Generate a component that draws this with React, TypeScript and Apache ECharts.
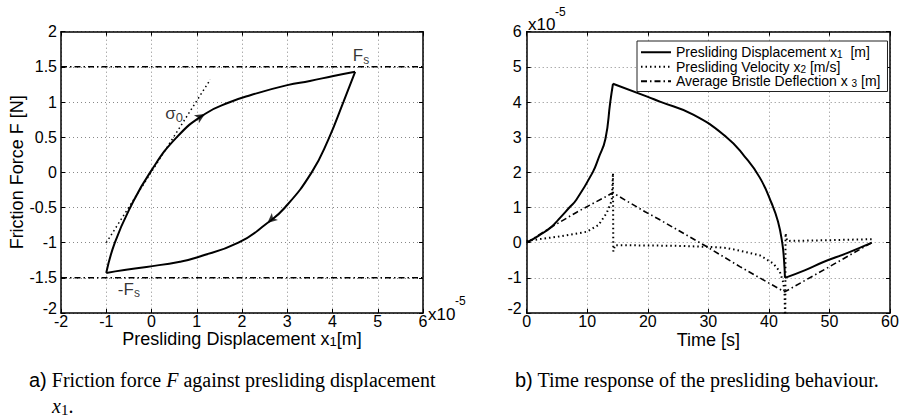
import { useEffect, useRef } from "react";
import * as echarts from "echarts";

// ---------- Left chart: friction force vs presliding displacement (x1 in 1e-5 m) ----------
const loopUpX = [-1, -0.81, -0.47, -0.03, 0.56, 1.18, 1.74, 2.2, 3.0, 3.5, 4.02, 4.5];
const loopUpY = [-1.43, -1.0, -0.5, 0, 0.5, 0.83, 1.0, 1.1, 1.24, 1.3, 1.37, 1.43];
const loopDownX = [4.5, 4.24, 3.91, 3.54, 2.95, 2.56, 1.92, 1.0, 0.63, -0.11, -0.6, -1];
const loopDownY = [1.43, 1.0, 0.47, 0, -0.5, -0.72, -1.0, -1.21, -1.27, -1.345, -1.39, -1.43];
const tangentX = [-1, 1.3];
const tangentY = [-1, 1.32];
const staticFriction = 1.5;
const arrowUp = [1.18, 0.83];
const arrowDown = [2.56, -0.72];
const leftXRange = [-2, 6, 1];
const leftYRange = [-2, 2, 0.5];

// ---------- Right chart: time response (values in 1e-5) ----------
const timeX1 = [0, 2.0, 4.1, 5.2, 7.05, 8.2, 10.9, 11.85, 13.0, 13.8, 14.25, 19.8, 22.0, 27.5, 33.0, 36.0, 38.5, 40.5, 41.5, 42.2, 42.5, 42.65, 46.0, 49.0, 53.0, 57.0];
const valX1 = [0, 0.2, 0.45, 0.65, 1.0, 1.22, 2.0, 2.4, 2.95, 4.0, 4.52, 4.16, 4.01, 3.64, 3.0, 2.45, 1.85, 1.1, 0.6, 0.0, -0.5, -1.0, -0.78, -0.55, -0.29, 0.0];
const x1Corners = [10, 21];
const timeX2 = [0, 5.5, 9.9, 11.85, 13.2, 14.05, 14.25, 14.3, 14.6, 20, 25, 30.2, 33, 35.5, 38.5, 40.7, 41.8, 42.4, 42.6, 42.7, 42.75, 43.0, 50, 57];
const valX2 = [0.05, 0.18, 0.31, 0.5, 0.84, 1.2, 1.98, -0.25, -0.07, -0.08, -0.09, -0.12, -0.15, -0.24, -0.36, -0.59, -0.82, -1.15, -1.5, -2.5, 0.27, 0.05, 0.07, 0.1];
const timeX3 = [0, 3.85, 8.2, 11.0, 13.2, 14.2, 19.55, 22.0, 29.7, 35.2, 39.6, 42.6, 49.0, 53.4, 57.0];
const valX3 = [0, 0.42, 0.86, 1.12, 1.32, 1.42, 0.88, 0.65, -0.11, -0.68, -1.11, -1.4, -0.78, -0.35, 0.0];
const rightXRange = [0, 60, 10];
const rightYRange = [-2, 6, 1];

const seriesNames = [
  "Presliding Displacement x1 [m]",
  "Presliding Velocity x2 [m/s]",
  "Average Bristle Deflection x3 [m]",
];
const legendRich: Record<string, string> = {
  [seriesNames[0]]: "{t|Presliding Displacement x}{s|1}{t|  [m]}",
  [seriesNames[1]]: "{t|Presliding Velocity x}{s|2}{t| [m/s]}",
  [seriesNames[2]]: "{t|Average Bristle Deflection x }{s|3}{t| [m]}",
};

const SANS = "'Liberation Sans', Arial, Helvetica, sans-serif";
const SERIF = "'Liberation Serif', 'Times New Roman', serif";

function pairs(xs: number[], ys: number[]) {
  return xs.map((x, i) => [x, ys[i]]);
}

const black = "#000";
const DASHDOT = [6, 3, 1.5, 3];
const DOTTED = [1.5, 3];

function frameAxis(gridIndex: number, range: number[], position: string, extra: any = {}) {
  return {
    gridIndex,
    type: "value",
    min: range[0],
    max: range[1],
    interval: range[2],
    position,
    axisLine: { show: true, onZero: false, lineStyle: { color: black, width: 1.5 } },
    axisTick: { show: true, inside: true, length: 4, lineStyle: { color: black, width: 1 } },
    axisLabel: { show: false },
    splitLine: { show: false },
    ...extra,
  };
}

export default function App() {
  const ref = useRef<HTMLDivElement>(null);
  useEffect(() => {
    if (!ref.current) return;
    const chart = echarts.init(ref.current, undefined, { renderer: "svg" });

    const tickLabel = { show: true, color: black, fontSize: 16, fontFamily: SANS };
    // y-axis labels: the lowest one sits slightly above its tick, as in the reference
    const yTickLabel = (min: number, margin: number) => ({
      ...tickLabel,
      margin,
      formatter: (v: number) => (v === min ? `{lo|${v}}` : `${v}`),
      rich: { lo: { fontSize: 16, fontFamily: SANS, color: black, padding: [0, 0, 9, 0] } },
    });
    const gridLine = { show: true, lineStyle: { type: [1, 3], color: "#888", width: 1 } };
    const richTitle = {
      t: { fontSize: 18, fontFamily: SANS, color: black },
      s: { fontSize: 13, fontFamily: SANS, color: black, padding: [6, 0, 0, 0] },
    };

    const x1Pairs = pairs(timeX1, valX1);
    const x1Pieces = [
      x1Pairs.slice(0, x1Corners[0] + 1),
      x1Pairs.slice(x1Corners[0], x1Corners[1] + 1),
      x1Pairs.slice(x1Corners[1]),
    ];

    const annot = (pos: number[], text: string, rich: any) => ({
      type: "scatter",
      xAxisIndex: 0,
      yAxisIndex: 0,
      symbolSize: 0,
      silent: true,
      data: [pos],
      label: { show: true, position: "inside", formatter: text, rich, color: black },
    });
    const annotRich = (subSize: number) => ({
      b: { fontSize: 17, fontFamily: SANS, color: black },
      s: { fontSize: subSize, fontFamily: SANS, color: black, padding: [8, 0, 0, 0] },
    });

    const option: any = {
      animation: false,
      backgroundColor: "#fff",
      grid: [
        { left: 61, top: 31.7, width: 362, height: 281.3 },
        { left: 526.7, top: 31.7, width: 363.3, height: 281.3 },
      ],
      xAxis: [
        frameAxis(0, leftXRange, "bottom", {
          axisLabel: { ...tickLabel, margin: 0 },
          splitLine: gridLine,
          name: "{t|Presliding Displacement x}{s|1}{t|[m]}",
          nameLocation: "middle",
          nameGap: 16,
          nameMoveOverlap: false,
          nameTextStyle: { rich: richTitle, verticalAlign: "top" },
        }),
        frameAxis(1, rightXRange, "bottom", {
          axisLabel: { ...tickLabel, margin: 0 },
          splitLine: gridLine,
          name: "{t|Time [s]}",
          nameLocation: "middle",
          nameGap: 18,
          nameMoveOverlap: false,
          nameTextStyle: { rich: richTitle, verticalAlign: "top" },
        }),
        frameAxis(0, leftXRange, "top"),
        frameAxis(1, rightXRange, "top"),
      ],
      yAxis: [
        frameAxis(0, leftYRange, "left", {
          axisLabel: yTickLabel(leftYRange[0], 4),
          splitLine: gridLine,
          name: "Friction Force F [N]",
          nameLocation: "middle",
          nameGap: 35,
          nameMoveOverlap: false,
          nameTextStyle: { fontSize: 18, fontFamily: SANS, color: black },
        }),
        frameAxis(1, rightYRange, "left", {
          axisLabel: yTickLabel(rightYRange[0], 5),
          splitLine: gridLine,
        }),
        frameAxis(0, leftYRange, "right"),
        frameAxis(1, rightYRange, "right"),
      ],
      legend: {
        data: seriesNames,
        orient: "vertical",
        left: 637,
        top: 41,
        itemGap: 0,
        itemWidth: 30,
        itemHeight: 12,
        itemTextGap: 5,
        padding: [4, 7, 3, 3],
        borderColor: "#222",
        borderWidth: 1,
        borderRadius: 0,
        backgroundColor: "#fff",
        selectedMode: false,
        itemStyle: { color: "rgba(0,0,0,0)", borderColor: "rgba(0,0,0,0)", borderWidth: 0, opacity: 0 },
        formatter: (n: string) => legendRich[n],
        textStyle: {
          fontFamily: SANS,
          fontSize: 14,
          color: black,
          lineHeight: 12.5,
          rich: {
            t: { fontSize: 14, lineHeight: 12.5, fontFamily: SANS, color: black },
            s: { fontSize: 10, lineHeight: 8, padding: [4.5, 0, 0, 0], fontFamily: SANS, color: black },
          },
        },
      },
      series: [
        // ---- left chart ----
        {
          type: "line", xAxisIndex: 0, yAxisIndex: 0, data: pairs(loopUpX, loopUpY),
          smooth: 0.5, symbol: "none", lineStyle: { color: black, width: 2 },
        },
        {
          type: "line", xAxisIndex: 0, yAxisIndex: 0, data: pairs(loopDownX, loopDownY),
          smooth: 0.5, symbol: "none", lineStyle: { color: black, width: 2 },
        },
        {
          type: "line", xAxisIndex: 0, yAxisIndex: 0, data: pairs(tangentX, tangentY),
          symbol: "none", lineStyle: { color: black, width: 1.5, type: DOTTED },
        },
        {
          type: "line", xAxisIndex: 0, yAxisIndex: 0,
          data: [[leftXRange[0], staticFriction], [leftXRange[1], staticFriction]],
          symbol: "none", lineStyle: { color: black, width: 1.5, type: DASHDOT },
        },
        {
          type: "line", xAxisIndex: 0, yAxisIndex: 0,
          data: [[leftXRange[0], -staticFriction], [leftXRange[1], -staticFriction]],
          symbol: "none", lineStyle: { color: black, width: 1.5, type: DASHDOT },
        },
        {
          type: "scatter", xAxisIndex: 0, yAxisIndex: 0, data: [arrowUp],
          symbol: "arrow", symbolSize: [7, 10], symbolRotate: -58, itemStyle: { color: black },
        },
        {
          type: "scatter", xAxisIndex: 0, yAxisIndex: 0, data: [arrowDown],
          symbol: "arrow", symbolSize: [7, 10], symbolRotate: 131, itemStyle: { color: black },
        },
        annot([4.63, 1.66], "{b|F}{s|s}", annotRich(12)),
        annot([-0.5, -1.66], "{b|-F}{s|s}", annotRich(12)),
        annot([0.5, 0.83], "{b|σ}{s|0}", annotRich(13)),
        // ---- right chart ----
        ...x1Pieces.map((d) => ({
          name: seriesNames[0], type: "line", xAxisIndex: 1, yAxisIndex: 1, data: d,
          smooth: 0.5, symbol: "none", lineStyle: { color: black, width: 2 }, itemStyle: { color: black },
        })),
        {
          name: seriesNames[1], type: "line", xAxisIndex: 1, yAxisIndex: 1, data: pairs(timeX2, valX2),
          symbol: "none", lineStyle: { color: black, width: 2, type: DOTTED }, itemStyle: { color: black },
        },
        {
          name: seriesNames[2], type: "line", xAxisIndex: 1, yAxisIndex: 1, data: pairs(timeX3, valX3),
          symbol: "none", lineStyle: { color: black, width: 1.6, type: DASHDOT }, itemStyle: { color: black },
        },
      ],
      graphic: [
        { type: "text", x: 428, y: 314, style: { text: "x10", fontSize: 17, fontFamily: SANS, fill: black, verticalAlign: "middle" } },
        { type: "text", x: 455, y: 301, style: { text: "-5", fontSize: 12, fontFamily: SANS, fill: black, verticalAlign: "middle" } },
        { type: "text", x: 528, y: 24, style: { text: "x10", fontSize: 17, fontFamily: SANS, fill: black, verticalAlign: "middle" } },
        { type: "text", x: 555, y: 12, style: { text: "-5", fontSize: 12, fontFamily: SANS, fill: black, verticalAlign: "middle" } },
        {
          type: "text", x: 29, y: 380,
          style: {
            text: "{ss|a)} Friction force {it|F} against presliding displacement",
            fontSize: 20, fontFamily: SERIF, fill: black, verticalAlign: "middle",
            rich: {
              ss: { fontSize: 20, fontFamily: SANS },
              it: { fontSize: 20, fontFamily: SERIF, fontStyle: "italic" },
            },
          },
        },
        {
          type: "text", x: 52, y: 406,
          style: {
            text: "{it|x}{sub|1}.",
            fontSize: 20, fontFamily: SERIF, fill: black, verticalAlign: "middle",
            rich: {
              it: { fontSize: 20, fontFamily: SERIF, fontStyle: "italic" },
              sub: { fontSize: 15, fontFamily: SERIF, padding: [8, 0, 0, 0] },
            },
          },
        },
        {
          type: "text", x: 515, y: 380,
          style: {
            text: "{ss|b)} Time response of the presliding behaviour.",
            fontSize: 20, fontFamily: SERIF, fill: black, verticalAlign: "middle",
            rich: { ss: { fontSize: 20, fontFamily: SANS } },
          },
        },
      ],
    };
    chart.setOption(option);
    return () => chart.dispose();
  }, []);

  return (
    <div
      ref={ref}
      style={{ position: "absolute", left: 0, top: 0, width: 903, height: 419, background: "#fff" }}
    />
  );
}
